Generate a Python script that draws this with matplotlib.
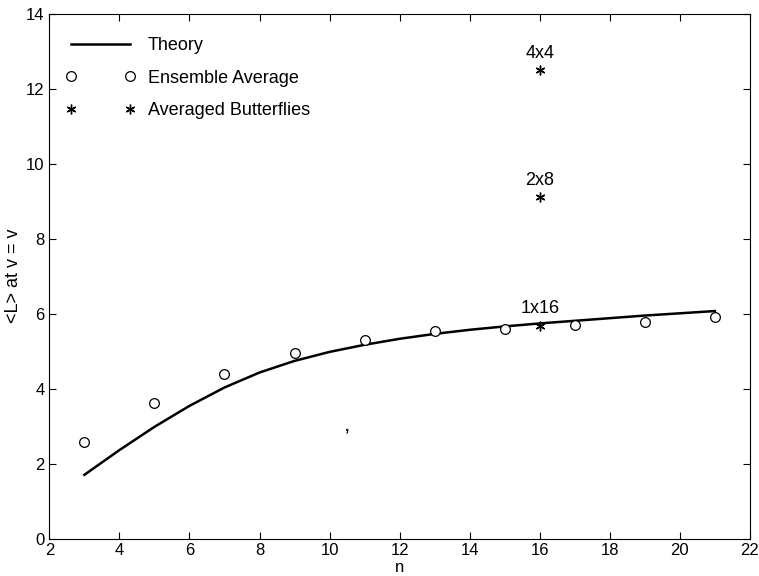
import matplotlib
matplotlib.use('Agg')
from matplotlib import pyplot as plt
import numpy as np

plt.rcParams['font.family'] = ['Liberation Sans', 'DejaVu Sans']

# theory curve
theory_n = [3, 4, 5, 6, 7, 8, 9, 10, 11, 12, 13, 14, 15, 16, 17, 18, 19, 20, 21]
theory_L = [1.70, 2.36, 2.98, 3.54, 4.03, 4.43, 4.74, 4.98, 5.17, 5.33, 5.46, 5.57,
            5.66, 5.74, 5.81, 5.88, 5.95, 6.01, 6.07]

# ensemble average
ens_n = [3, 5, 7, 9, 11, 13, 15, 17, 19, 21]
ens_L = [2.58, 3.63, 4.40, 4.96, 5.31, 5.53, 5.59, 5.71, 5.77, 5.92]

# averaged butterflies
bf_n = [16, 16, 16]
bf_L = [12.5, 9.1, 5.68]
bf_labels = ['4x4', '2x8', '1x16']

fig = plt.figure(figsize=(7.59, 5.76), dpi=100)
ax = fig.add_axes([0.065, 0.065, 0.923, 0.911])

ax.plot(theory_n, theory_L, color='black', linewidth=1.8, label='Theory')
ax.plot(ens_n, ens_L, linestyle='none', marker='o', markersize=7,
        markerfacecolor='white', markeredgecolor='black', markeredgewidth=0.9,
        label='Ensemble Average')
ax.plot(bf_n, bf_L, linestyle='none', marker=(6, 2, 0), markersize=7,
        color='black', markeredgewidth=1.0, label='Averaged Butterflies')

for n, L, lab in zip(bf_n, bf_L, bf_labels):
    ax.annotate(lab, (n, L), xytext=(0, 6), textcoords='offset points',
                ha='center', va='bottom', fontsize=13)

# stray mark in the scan
ax.text(10.5, 3.0, ',', fontsize=11, ha='center', va='center', fontweight='bold')

ax.set_xlim(2, 22)
ax.set_ylim(0, 14)
ax.set_xticks(np.arange(2, 23, 2))
ax.set_yticks(np.arange(0, 15, 2))
ax.tick_params(direction='in', length=5, labelsize=12, top=True, right=True)
ax.set_xlabel('n', fontsize=12, labelpad=1)
ax.set_ylabel('<L> at v = v', fontsize=13, labelpad=3)

leg = ax.legend(loc='upper left', bbox_to_anchor=(0.023, 0.955), frameon=False,
                numpoints=2, fontsize=13, handlelength=3.9, handletextpad=0.65,
                labelspacing=0.85, borderaxespad=0, borderpad=0)

fig.savefig('out.png', dpi=100)
